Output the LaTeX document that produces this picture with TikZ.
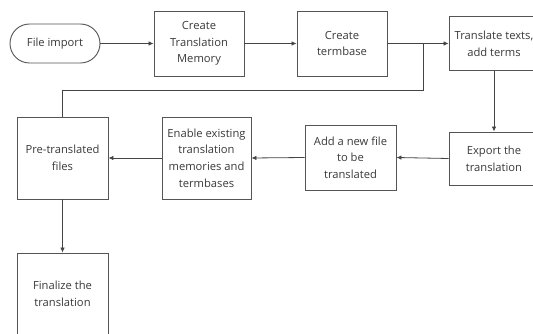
\documentclass[tikz,border=0pt]{standalone}
\usepackage{fontspec}
\setmainfont{Open Sans}
\usetikzlibrary{arrows.meta}
\definecolor{txt}{HTML}{3A3A3A}
\definecolor{boxc}{HTML}{555555}
\definecolor{linec}{HTML}{444444}
\begin{document}
\begin{tikzpicture}[x=1pt,y=-1pt,
  box/.style={draw=boxc, line width=0.9pt, text=txt, align=center,
    font=\fontsize{11.2}{16.7}\selectfont, inner sep=0pt, fill=white},
  stad/.style={box, rounded corners=19.5pt},
  conn/.style={draw=linec, line width=0.8pt},
  arr/.style={conn, -{Latex[length=5pt,width=4.5pt]}}]
\useasboundingbox (0,0) rectangle (533,334);
\fill[white] (0,0) rectangle (533,334);
\clip (0,0) rectangle (533,334);
\node[stad, minimum width=90, minimum height=39] (imp) at (55,43.5) {File import};
\node[box, minimum width=90, minimum height=65] (tm) at (199,43.5) {Create\\Translation\\Memory};
\node[box, minimum width=90, minimum height=65] (tb) at (342,43.5) {Create\\termbase};
\node[box, minimum width=90, minimum height=54] (tt) at (494,43.5) {Translate texts,\\add terms};
\node[box, minimum width=90, minimum height=53] (ex) at (494,158.5) {Export the\\translation};
\node[box, minimum width=91, minimum height=65] (add) at (350.5,157.5) {Add a new file\\to be\\translated};
\node[box, minimum width=89, minimum height=82] (en) at (206.5,158) {Enable existing\\translation\\memories and\\termbases};
\node[box, minimum width=91, minimum height=82] (pre) at (62.5,158) {Pre-translated\\files};
\node[box, minimum width=91, minimum height=82] (fin) at (62.5,294) {Finalize the\\translation};
\coordinate (b1) at (423,43.5);
\coordinate (b2) at (423,90);
\coordinate (b3) at (62.5,90);
\draw[arr] (imp.east) -- (tm.west);
\draw[arr] (tm.east) -- (tb.west);
\draw[arr] (tb.east) -- (tt.west);
\draw[conn] (b1) -- (b2) -- (b3) -- (pre.north);
\draw[arr] (tt.south) -- (ex.north);
\draw[arr] (ex.west) -- (add.east);
\draw[arr] (add.west) -- (en.east);
\draw[arr] (en.west) -- (pre.east);
\draw[arr] (pre.south) -- (fin.north);
\end{tikzpicture}
\end{document}
